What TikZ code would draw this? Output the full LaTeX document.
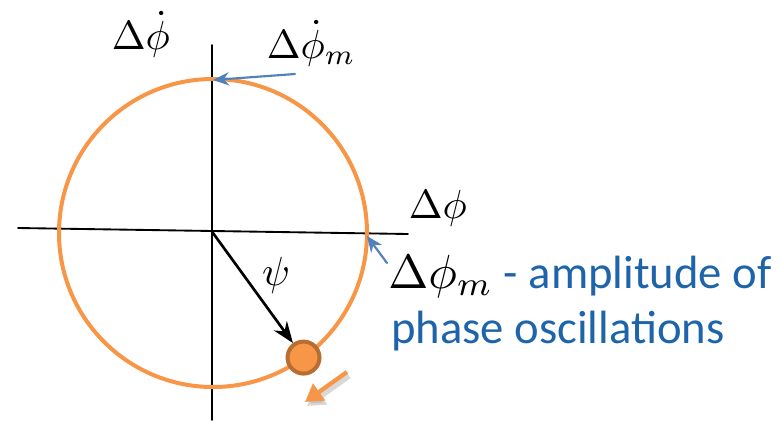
\documentclass[tikz,border=0pt]{standalone}
\usepackage{graphicx}
\usepackage{fontspec}
\setmainfont{Carlito}
\usetikzlibrary{arrows.meta,calc,positioning}
\definecolor{phaseorange}{RGB}{247,150,70}
\definecolor{phaserim}{RGB}{184,110,50}
\definecolor{phaseblue}{RGB}{79,129,189}
\definecolor{phasetext}{RGB}{30,100,170}
\tikzset{
 axislabel/.style={font=\fontsize{10}{12}\selectfont,inner sep=0pt,scale=3.05,transform shape},
 notetext/.style={font=\fontsize{35}{40}\selectfont,inner sep=0pt,anchor=base west,text=phasetext},
 pointer/.style={->,phaseblue,line width=1.6pt,>={Stealth[length=12pt,width=10pt]}},
}
\newcommand{\bigmath}[1]{\scalebox{3.6}{\fontsize{10}{12}\selectfont$#1$}}

\begin{document}
\begin{tikzpicture}[x=0.75pt,y=-0.75pt,>=Stealth,line cap=round,line join=round]
 \useasboundingbox (0,0) rectangle (782,422);
 % axes
 \coordinate (O) at (213,233);
 \coordinate (xl) at (18,228);
 \coordinate (xr) at (408,234);
 \coordinate (yt) at (212,45);
 \coordinate (yb) at (212,420);
 \draw[line width=1.4pt] (xl) -- (xr);
 \draw[line width=1.4pt] (yt) -- (yb);
 % phase trajectory and particle
 \draw[phaseorange,line width=3pt] (O) circle (154);
 \node[circle,fill=phaseorange,draw=phaserim,line width=3pt,minimum size=24pt,inner sep=0pt]
  (dot) at ($(O)+(54:154)$) {};
 \draw[->,line width=2pt,>={Stealth[length=16pt,width=12pt]}] (O) -- (dot);
 % direction of motion
 \coordinate (mvA) at (347,372);
 \coordinate (mvB) at (305,402);
 \draw[black!30,opacity=.5,line width=4pt,line cap=butt,-{Triangle[length=13pt,width=15pt]}]
  ($(mvA)+(2,4)$) -- ($(mvB)+(2,4)$);
 \draw[phaseorange,line width=3.2pt,line cap=butt,-{Triangle[length=13pt,width=15pt]}] (mvA) -- (mvB);
 % labels
 \node[axislabel,anchor=base west] (dphidot) at (111,49) {$\Delta\dot\phi$};
 \node[axislabel,anchor=base west] (dphidotm) at (266,58) {$\Delta\dot\phi_m$};
 \node[axislabel,anchor=base west] (dphi) at (408,218) {$\Delta\phi$};
 \node[axislabel] (psi) at (276,275) {$\psi$};
 \node[notetext] (ampl) at (388,288)
  {\textcolor{black}{\bigmath{\Delta\phi_m}} - amplitude of};
 \node[notetext] (osc) at (391,343) {phase oscillations};
 % pointers
 \coordinate (ptop) at (213,80);
 \coordinate (pright) at (367,236);
 \coordinate (tA) at (295,74);
 \coordinate (tB) at (387,263);
 \draw[pointer] (tA) -- (ptop);
 \draw[pointer] (tB) -- (pright);
\end{tikzpicture}
\end{document}
